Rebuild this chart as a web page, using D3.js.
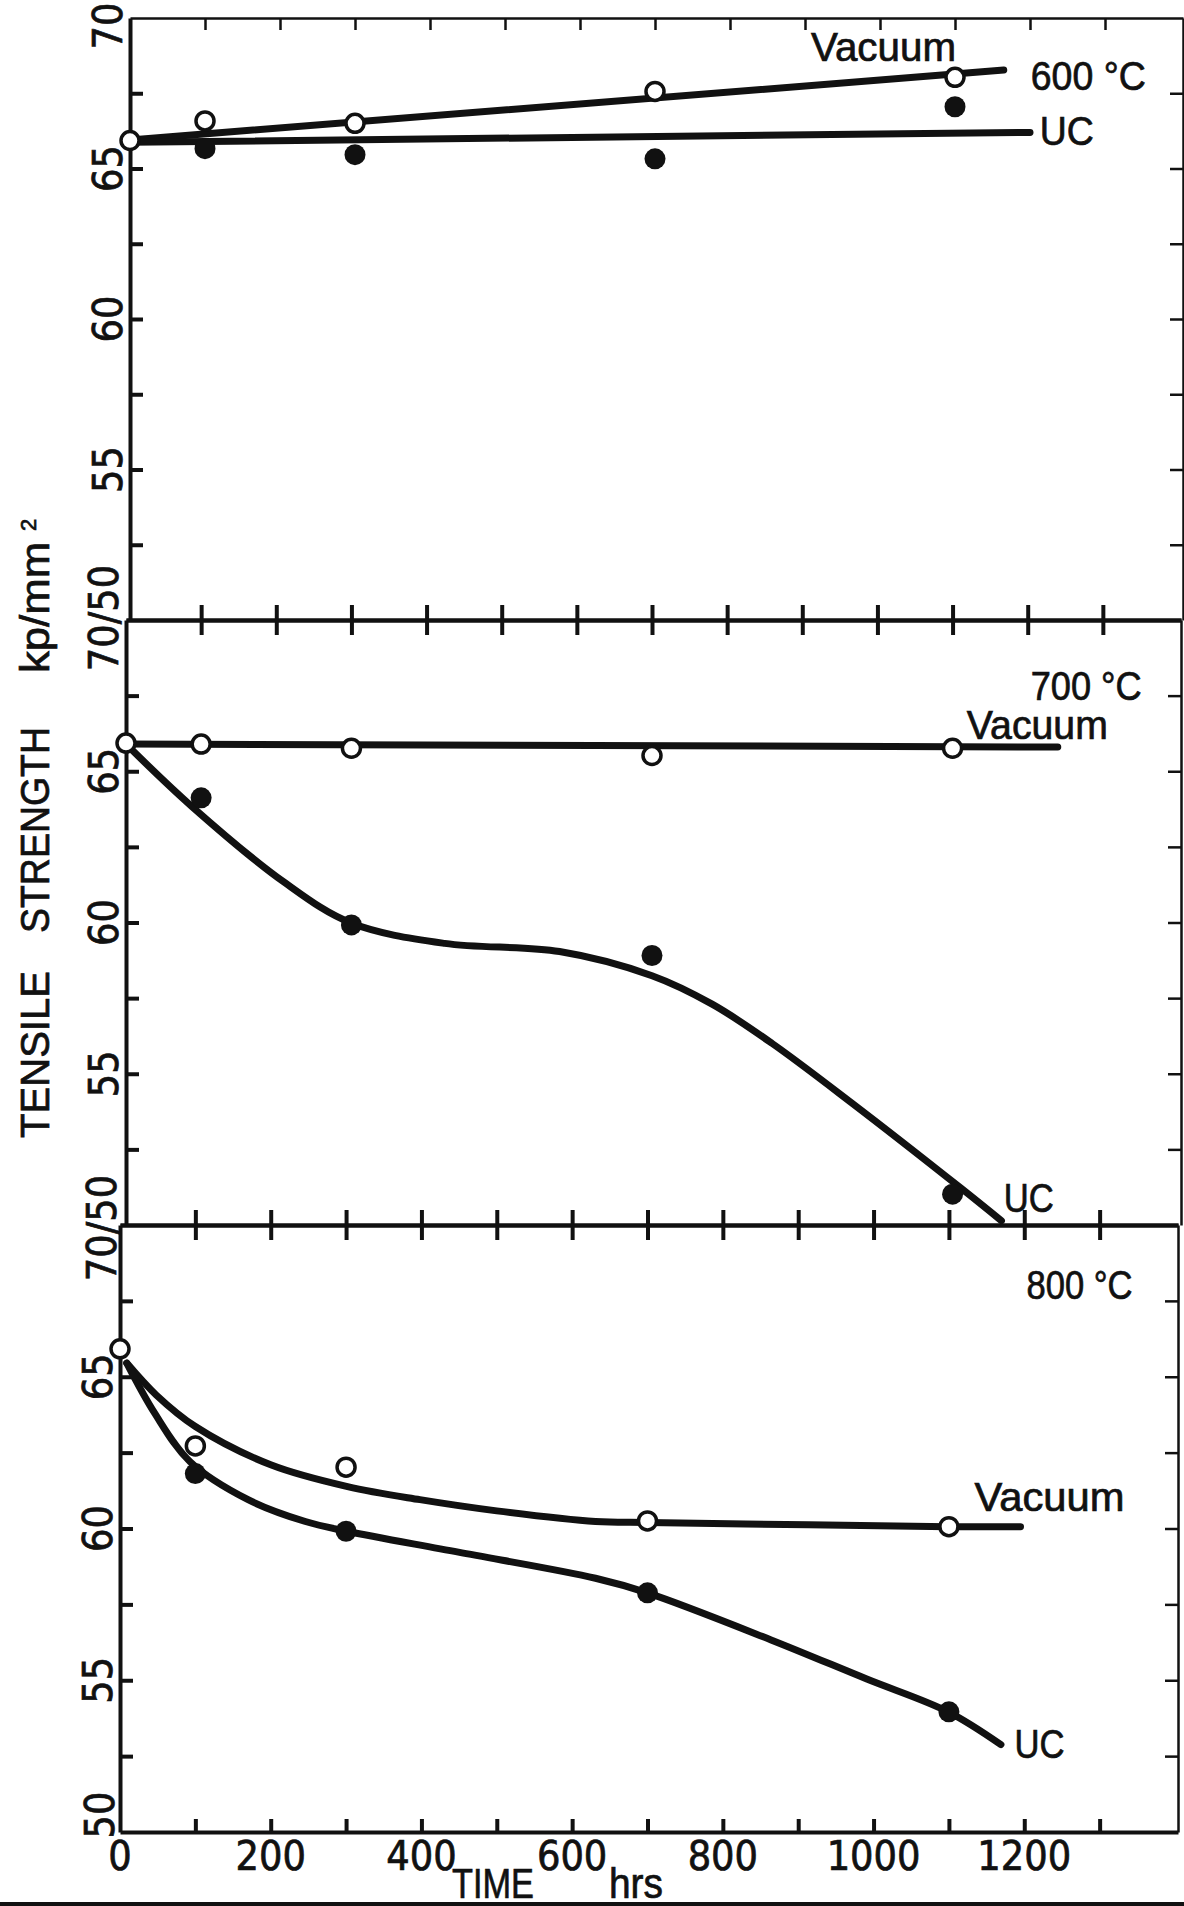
<!DOCTYPE html>
<html>
<head>
<meta charset="utf-8">
<script src="https://cdn.jsdelivr.net/npm/d3@7/dist/d3.min.js"></script>
<style>
  body { margin: 0; background: #fff; }
  text { fill: #111; stroke: #111; stroke-width: 0.7px; }
  .tick-label { font-family: "Liberation Sans Narrow", "DejaVu Sans Condensed", sans-serif; font-size: 41px; }
  .note { font-family: "Liberation Sans", Arial, sans-serif; font-size: 40px; }
  .axis path, .axis line { stroke: #111; }
</style>
</head>
<body>
<div id="chart"></div>
<script>
// test times (hrs)
const hours = [0, 100, 300, 700, 1100];
const ucHours = [100, 300, 700, 1100];

// 600 °C  (kp/mm2)
const vac600 = [65.93, 66.58, 66.5, 67.56, 68.03];
const uc600 = [65.66, 65.46, 65.32, 67.05];
const vac600FitHours = [0, 1165];
const vac600Fit = [65.95, 68.27];
const uc600FitHours = [0, 1200];
const uc600Fit = [65.87, 66.2];

// 700 °C
const vac700 = [65.93, 65.9, 65.76, 65.52, 65.76];
const uc700 = [64.12, 59.92, 58.91, 51.02];
const vac700FitHours = [0, 1240];
const vac700Fit = [65.9, 65.8];
const uc700FitHours = [0, 87, 210, 299, 424, 577, 700, 780, 860, 965, 1111, 1165];
const uc700Fit = [65.9, 63.85, 61.34, 59.99, 59.31, 59.04, 58.24, 57.3, 56.0, 54.05, 51.22, 50.14];

// 800 °C
const vac800 = [65.92, 62.72, 62.02, 60.25, 60.06];
const uc800 = [61.81, 59.91, 57.88, 53.96];
const vac800FitHours = [9, 48, 100, 200, 302, 398, 500, 631, 700, 914, 1099, 1195];
const vac800Fit = [65.45, 64.4, 63.36, 62.1, 61.38, 60.95, 60.58, 60.23, 60.2, 60.12, 60.06, 60.06];
const uc800FitHours = [9, 46, 93, 170, 246, 301, 449, 631, 700, 864, 991, 1099, 1169];
const uc800Fit = [65.45, 63.8, 62.2, 60.95, 60.23, 59.91, 59.22, 58.36, 57.88, 56.33, 55.04, 53.96, 52.88];

// tick values
const xTicks = d3.range(100, 1400, 100);
const xTickLabels = [0, 200, 400, 600, 800, 1000, 1200];
const yTicks = [52.5, 55, 57.5, 60, 62.5, 65, 67.5];
const yTickLabels = [65, 60, 55];

// curve labels, anchored in data units [hrs, kp/mm2]
const labels600 = [["Vacuum", 908, 68.58, 145], ["600 °C", 1201, 67.62, 115], ["UC", 1213, 65.79, 54]];
const labels700 = [["700 °C", 1204, 67.34, 111], ["Vacuum", 1119, 66.05, 141], ["UC", 1168, 50.42, 50]];
const labels800 = [["800 °C", 1203, 67.56, 106], ["Vacuum", 1134, 60.58, 150], ["UC", 1187, 52.45, 50]];

// ----------------------------------------------------------

const width = 1184;
const height = 1906;

// the three stacked panels (scan is a bit skewed, so the left edges drift)
const panelTop = [18, 620, 1225];
const panelBottom = [620, 1225, 1832];
const panelLeft = [130, 126, 120];
const panelRight = [1183, 1181, 1178];
const xMaxHours = 1404;

const svg = d3.select("div#chart").append("svg").attr("width", width).attr("height", height)

const zip = (xs, ys) => xs.map((h, i) => ({ h: h, v: ys[i] }))

const panels = [
    { vac: zip(hours, vac600), uc: zip(ucHours, uc600), vacFit: zip(vac600FitHours, vac600Fit), ucFit: zip(uc600FitHours, uc600Fit), labels: labels600 },
    { vac: zip(hours, vac700), uc: zip(ucHours, uc700), vacFit: zip(vac700FitHours, vac700Fit), ucFit: zip(uc700FitHours, uc700Fit), labels: labels700 },
    { vac: zip(hours, vac800), uc: zip(ucHours, uc800), vacFit: zip(vac800FitHours, vac800Fit), ucFit: zip(uc800FitHours, uc800Fit), labels: labels800 }
]

panels.forEach((p, i) => {
    const x = d3.scaleLinear().domain([0, xMaxHours]).range([panelLeft[i], panelRight[i]])
    const y = d3.scaleLinear().domain([50, 70]).range([panelBottom[i], panelTop[i]])
    const g = svg.append("g").attr("class", "panel")

    // left and right frame with inward ticks
    g.append("g").attr("class", "axis").attr("transform", `translate(${panelLeft[i]},0)`)
        .call(d3.axisLeft(y).tickValues(yTicks).tickSizeInner(-13).tickSizeOuter(0).tickFormat(""))
        .call(a => a.selectAll("path, line").attr("stroke-width", 4))
    g.append("g").attr("class", "axis").attr("transform", `translate(${panelRight[i]},0)`)
        .call(d3.axisRight(y).tickValues(yTicks).tickSizeInner(-13).tickSizeOuter(0).tickFormat(""))
        .call(a => a.selectAll("path, line").attr("stroke-width", 2.5))

    // top edge: inward ticks on the first panel, crossing ticks on shared edges
    if (i === 0) {
        g.append("g").attr("class", "axis").attr("transform", `translate(0,${panelTop[i]})`)
            .call(d3.axisTop(x).tickValues(xTicks).tickSizeInner(-12).tickSizeOuter(0).tickFormat(""))
            .call(a => { a.select("path").attr("stroke-width", 2.5); a.selectAll("line").attr("stroke-width", 2.5) })
    } else {
        g.append("g").attr("class", "axis").attr("transform", `translate(0,${panelTop[i]})`)
            .call(d3.axisTop(x).tickValues(xTicks).tickSizeInner(15).tickSizeOuter(0).tickFormat(""))
            .call(a => a.selectAll("path, line").attr("stroke-width", 4))
        g.append("g").attr("class", "axis").attr("transform", `translate(0,${panelTop[i]})`)
            .call(d3.axisBottom(x).tickValues(xTicks).tickSizeInner(15).tickSizeOuter(0).tickFormat(""))
            .call(a => a.selectAll("path, line").attr("stroke-width", 4))
    }
    if (i === panels.length - 1) {
        g.append("g").attr("class", "axis").attr("transform", `translate(0,${panelBottom[i]})`)
            .call(d3.axisBottom(x).tickValues(xTicks).tickSizeInner(-13).tickSizeOuter(0).tickFormat(""))
            .call(a => a.selectAll("path, line").attr("stroke-width", 4))

        g.selectAll(".xlabel").data(xTickLabels).enter().append("text")
            .attr("class", "tick-label xlabel")
            .attr("x", d => x(d)).attr("y", panelBottom[i] + 38)
            .attr("text-anchor", "middle")
            .text(d => d)
    }

    // rotated y tick labels
    g.selectAll(".ylabel").data(yTickLabels).enter().append("text")
        .attr("class", "tick-label ylabel")
        .attr("transform", d => `translate(${panelLeft[i] - 8},${y(d)}) rotate(-90)`)
        .attr("text-anchor", "middle")
        .text(d => d)

    // fitted lines / curves
    const line = d3.line().x(d => x(d.h)).y(d => y(d.v))
    const curve = d3.line().curve(d3.curveCatmullRom.alpha(0.5)).x(d => x(d.h)).y(d => y(d.v))
    ;[p.vacFit, p.ucFit].forEach(f => {
        g.append("path").datum(f)
            .attr("d", f.length > 2 ? curve(f) : line(f))
            .attr("fill", "none").attr("stroke", "#111")
            .attr("stroke-width", 7).attr("stroke-linecap", "round").attr("stroke-linejoin", "round")
    })

    // measured points
    g.selectAll(".uc").data(p.uc).enter().append("circle")
        .attr("cx", d => x(d.h)).attr("cy", d => y(d.v)).attr("r", 10.5)
        .attr("fill", "#111")
    g.selectAll(".vac").data(p.vac).enter().append("circle")
        .attr("cx", d => x(d.h)).attr("cy", d => y(d.v)).attr("r", 9)
        .attr("fill", "#fff").attr("stroke", "#111").attr("stroke-width", 3.5)

    // curve and temperature labels
    g.selectAll(".note").data(p.labels).enter().append("text")
        .attr("class", "note")
        .attr("x", d => x(d[1])).attr("y", d => y(d[2]))
        .attr("textLength", d => d[3]).attr("lengthAdjust", "spacingAndGlyphs")
        .text(d => d[0])
})

// special y labels at the panel joints
const joint = [
    { t: "70", x: panelLeft[0] - 8, y: panelTop[0] + 8 },
    { t: "70/50", x: panelLeft[1] - 8, y: panelTop[1] - 2 },
    { t: "70/50", x: panelLeft[2] - 4, y: panelTop[2] + 3 },
    { t: "50", x: panelLeft[2] - 6, y: panelBottom[2] - 17 }
]
svg.selectAll(".joint").data(joint).enter().append("text")
    .attr("class", "tick-label joint")
    .attr("transform", d => `translate(${d.x},${d.y}) rotate(-90)`)
    .attr("text-anchor", "middle")
    .text(d => d.t)

// axis titles
const yTitle = [
    { t: "TENSILE", y: 1138, len: 167 },
    { t: "STRENGTH", y: 933, len: 206 },
    { t: "kp/mm", y: 673, len: 131 }
]
svg.selectAll(".ytitle").data(yTitle).enter().append("text")
    .attr("class", "note ytitle")
    .attr("transform", d => `translate(49,${d.y}) rotate(-90)`)
    .attr("textLength", d => d.len).attr("lengthAdjust", "spacingAndGlyphs")
    .text(d => d.t)
svg.append("text").attr("class", "note")
    .attr("transform", "translate(36,531) rotate(-90)")
    .style("font-size", "22px")
    .text("2")

svg.append("text").attr("class", "note").attr("x", 452).attr("y", 1898)
    .style("font-size", "42px")
    .attr("textLength", 82).attr("lengthAdjust", "spacingAndGlyphs").text("TIME")
svg.append("text").attr("class", "note").attr("x", 609).attr("y", 1898)
    .style("font-size", "42px")
    .attr("textLength", 54).attr("lengthAdjust", "spacingAndGlyphs").text("hrs")

// dark edge of the scanned sheet
svg.append("rect").attr("x", 0).attr("y", 1902).attr("width", width).attr("height", 4).attr("fill", "#111")
</script>
</body>
</html>
